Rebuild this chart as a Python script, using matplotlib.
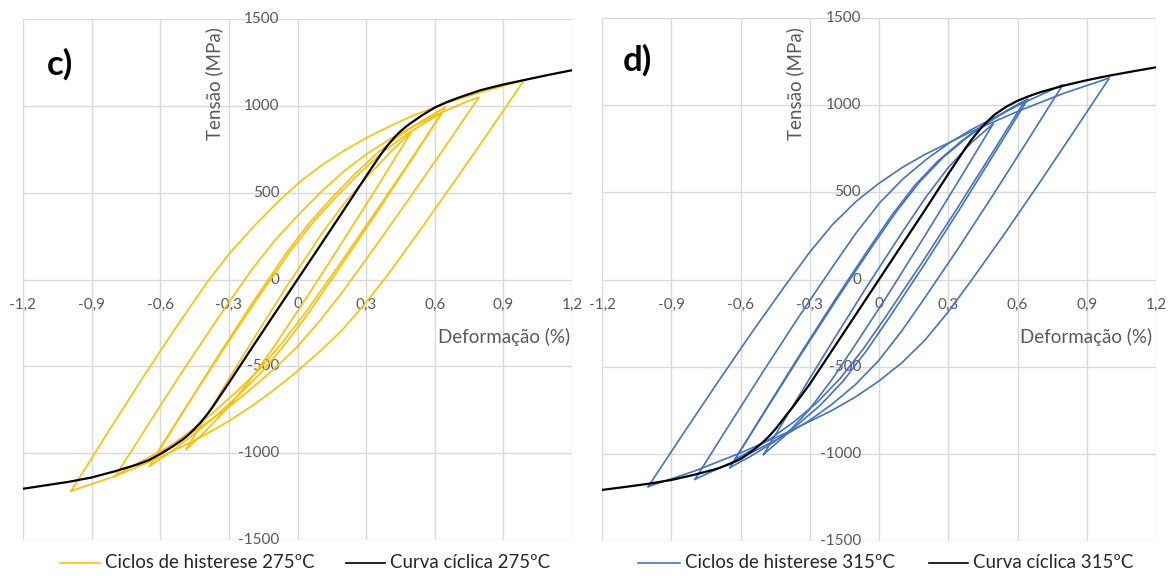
import matplotlib
matplotlib.use("Agg")
import matplotlib.pyplot as plt
from matplotlib.lines import Line2D

plt.rcParams['font.family'] = ['Lato', 'DejaVu Sans']

# ---------------- dados ----------------
xt = [-1.2, -0.9, -0.6, -0.3, 0, 0.3, 0.6, 0.9, 1.2]
xt_lab = ['-1,2', '-0,9', '-0,6', '-0,3', '0', '0,3', '0,6', '0,9', '1,2']
yt = [-1500, -1000, -500, 0, 500, 1000, 1500]
yt_lab = ['-1500', '-1000', '-500', '0', '500', '1000', '1500']

# curva ciclica 275 C
cc275_x = [-1.2, -1.1, -1.0, -0.9, -0.8, -0.7, -0.65, -0.6, -0.55, -0.5, -0.475, -0.45, -0.425, -0.4,
           -0.375, -0.35, -0.3, -0.2, -0.1, 0, 0.1, 0.2, 0.3, 0.35, 0.375, 0.4, 0.425, 0.45, 0.475,
           0.5, 0.55, 0.6, 0.65, 0.7, 0.8, 0.9, 1.0, 1.1, 1.2]
cc275_y = [-1205, -1185, -1165, -1140, -1105, -1065, -1040, -1005, -965, -920, -892, -860, -825, -785,
           -742, -693, -595, -395, -197, 0, 197, 395, 595, 693, 740, 782, 820, 853, 881,
           905, 950, 990, 1020, 1045, 1090, 1123, 1151, 1179, 1205]

# curva ciclica 315 C
cc315_x = [-1.2, -1.1, -1.0, -0.9, -0.8, -0.7, -0.65, -0.6, -0.55, -0.5, -0.475, -0.45, -0.425, -0.4,
           -0.375, -0.35, -0.3, -0.2, -0.1, 0, 0.1, 0.2, 0.3, 0.35, 0.375, 0.4, 0.425, 0.45, 0.475,
           0.5, 0.55, 0.6, 0.65, 0.7, 0.8, 0.9, 1.0, 1.1, 1.2]
cc315_y = [-1207, -1190, -1172, -1150, -1120, -1085, -1060, -1030, -985, -930, -897, -860, -818, -775,
           -734, -690, -600, -400, -200, 0, 200, 400, 605, 705, 754, 800, 842, 880, 914,
           945, 990, 1025, 1052, 1075, 1112, 1143, 1170, 1194, 1217]

# ciclos de histerese 275 C (ramo ascendente seguido do ramo descendente)
h275_x = [
    [-0.99, -0.84, -0.69, -0.54, -0.39, -0.29, -0.19, -0.09, 0.01, 0.11, 0.21, 0.31, 0.41, 0.51, 0.61,
     0.71, 0.81, 0.99,
     0.84, 0.69, 0.54, 0.39, 0.29, 0.19, 0.09, -0.01, -0.11, -0.21, -0.31, -0.41, -0.51, -0.61, -0.71,
     -0.81, -0.91, -0.99],
    [-0.796, -0.646, -0.496, -0.346, -0.196, -0.096, 0.004, 0.104, 0.204, 0.304, 0.404, 0.504, 0.604,
     0.704, 0.793,
     0.643, 0.493, 0.343, 0.193, 0.093, -0.007, -0.107, -0.207, -0.307, -0.407, -0.507, -0.607, -0.707,
     -0.796],
    [-0.647, -0.497, -0.347, -0.197, -0.047, 0.053, 0.153, 0.253, 0.353, 0.453, 0.553, 0.647,
     0.497, 0.347, 0.197, 0.047, -0.053, -0.153, -0.253, -0.353, -0.453, -0.553, -0.647],
    [-0.625, -0.475, -0.325, -0.175, -0.025, 0.075, 0.175, 0.275, 0.375, 0.475, 0.575, 0.632,
     0.482, 0.332, 0.182, 0.032, -0.068, -0.168, -0.268, -0.368, -0.468, -0.568, -0.625],
    [-0.487, -0.337, -0.187, -0.037, 0.113, 0.213, 0.313, 0.413, 0.497,
     0.347, 0.197, 0.047, -0.103, -0.203, -0.303, -0.403, -0.487],
]
h275_y = [
    [-1218, -903, -593, -293, -6, 162, 307, 442, 562, 662, 747, 822, 887, 947, 997,
     1042, 1082, 1147,
     857, 572, 292, 19, -148, -298, -423, -538, -643, -738, -823, -898, -966, -1028, -1085,
     -1138, -1183, -1218],
    [-1132, -821, -515, -219, 64, 230, 373, 506, 625, 724, 808, 881, 946,
     1005, 1050,
     760, 475, 195, -78, -245, -395, -520, -635, -740, -835, -920, -995, -1063,
     -1132],
    [-1075, -755, -440, -135, 156, 327, 474, 611, 733, 835, 921, 992,
     687, 387, 93, -195, -370, -528, -660, -781, -891, -991, -1075],
    [-1020, -709, -404, -108, 175, 341, 484, 617, 735, 834, 918, 960,
     663, 371, 84, -195, -366, -520, -648, -765, -873, -970, -1020],
    [-979, -652, -331, -19, 278, 453, 603, 743, 848,
     530, 218, -89, -388, -571, -736, -873, -979],
]

# ciclos de histerese 315 C
h315_x = [
    [-1.0, -0.85, -0.7, -0.55, -0.4, -0.3, -0.2, -0.1, 0.0, 0.1, 0.2, 0.4, 0.6, 0.8, 0.998,
     0.848, 0.698, 0.548, 0.398, 0.298, 0.198, 0.098, -0.002, -0.102, -0.202, -0.402, -0.602, -0.802, -1.0],
    [-0.797, -0.647, -0.497, -0.347, -0.197, -0.097, 0.003, 0.103, 0.203, 0.303, 0.403, 0.603, 0.796,
     0.646, 0.496, 0.346, 0.196, 0.096, -0.004, -0.104, -0.204, -0.304, -0.404, -0.604, -0.797],
    [-0.646, -0.496, -0.346, -0.196, -0.046, 0.054, 0.154, 0.254, 0.354, 0.454, 0.554, 0.645,
     0.495, 0.345, 0.195, 0.045, -0.055, -0.155, -0.255, -0.355, -0.455, -0.555, -0.646],
    [-0.624, -0.474, -0.324, -0.174, -0.024, 0.076, 0.176, 0.276, 0.376, 0.476, 0.576, 0.632,
     0.482, 0.332, 0.182, 0.032, -0.068, -0.168, -0.268, -0.368, -0.468, -0.568, -0.624],
    [-0.50, -0.35, -0.20, -0.05, 0.10, 0.20, 0.30, 0.40, 0.495,
     0.345, 0.195, 0.045, -0.105, -0.205, -0.305, -0.405, -0.50],
]
h315_y = [
    [-1188, -888, -592, -302, -23, 157, 317, 447, 552, 642, 718, 848, 964, 1068, 1156,
     856, 560, 270, -9, -189, -349, -479, -584, -674, -750, -880, -996, -1100, -1188],
    [-1146, -830, -518, -213, 81, 271, 440, 576, 687, 782, 862, 999, 1117,
     801, 489, 184, -110, -300, -469, -605, -716, -811, -891, -1028, -1146],
    [-1079, -757, -438, -127, 173, 366, 538, 678, 791, 888, 969, 1035,
     713, 394, 83, -217, -410, -582, -722, -835, -932, -1013, -1079],
    [-1032, -715, -401, -95, 201, 391, 560, 698, 809, 904, 985, 1025,
     708, 394, 88, -208, -398, -567, -705, -816, -911, -992, -1032],
    [-1003, -675, -352, -35, 270, 467, 642, 784, 894,
     566, 243, -74, -379, -576, -751, -893, -1003],
]

amarelo = '#FFC000'
azul = '#4472C4'
cinza = '#595959'
W, H = 1176, 576

fig = plt.figure(figsize=(11.76, 5.76), dpi=100)


def eixos(rect):
    ax = fig.add_axes(rect)
    ax.set_xlim(-1.2, 1.2)
    ax.set_ylim(-1500, 1500)
    ax.set_xticks(xt)
    ax.set_yticks(yt)
    ax.tick_params(length=0, labelbottom=False, labelleft=False)
    ax.grid(color='#d9d9d9', lw=1.0)
    ax.set_axisbelow(True)
    for s in ax.spines.values():
        s.set_visible(False)
    for v, lab in zip(xt, xt_lab):
        ax.annotate(lab, (v, 0), xytext=(0, -18), textcoords='offset points',
                    ha='center', va='center', color=cinza, fontsize=11,
                    zorder=1, annotation_clip=False)
    for v, lab in zip(yt, yt_lab):
        ax.annotate(lab, (0, v), xytext=(-13, 0), textcoords='offset points',
                    ha='right', va='center', color=cinza, fontsize=11,
                    zorder=1, annotation_clip=False)
    return ax


def px(x, y):
    return x / W, 1 - y / H


# ---------------- painel c) ----------------
ax1 = eixos([23 / W, 1 - 540 / H, 549 / W, 521 / H])
for xs, ys in zip(h275_x, h275_y):
    ax1.plot(xs, ys, color=amarelo, lw=1.2, zorder=3)
ax1.plot(cc275_x, cc275_y, color='black', lw=1.6, zorder=4)

# ---------------- painel d) ----------------
ax2 = eixos([602 / W, 1 - 541 / H, 554 / W, 523 / H])
for xs, ys in zip(h315_x, h315_y):
    ax2.plot(xs, ys, color=azul, lw=1.2, zorder=3)
ax2.plot(cc315_x, cc315_y, color='black', lw=1.6, zorder=4)

# titulos dos eixos
for xc, xr in [(214, 570), (795, 1152)]:
    fig.text(*px(xc, 84), 'Tensão (MPa)', rotation=90, ha='center', va='center',
             color=cinza, fontsize=13.5)
    fig.text(*px(xr, 337), 'Deformação (%)', ha='right', va='center',
             color=cinza, fontsize=13.5)

# letras
fig.text(*px(60, 64), 'c)', ha='center', va='center', fontsize=25, fontweight='bold')
fig.text(*px(637, 60), 'd)', ha='center', va='center', fontsize=25, fontweight='bold')

# legendas
leg = [(60, 100, amarelo, 'Ciclos de histerese 275ºC'),
       (346, 385, 'black', 'Curva cíclica 275ºC'),
       (638, 680, azul, 'Ciclos de histerese 315ºC'),
       (929, 968, 'black', 'Curva cíclica 315ºC')]
for x0, x1, cor, txt in leg:
    a, yy = px(x0, 563)
    b, _ = px(x1, 563)
    fig.add_artist(Line2D([a, b], [yy, yy], color=cor, lw=1.2, transform=fig.transFigure))
    fig.text(*px(x1 + 5, 563), txt, ha='left', va='center', color='#262626', fontsize=13.4)

fig.savefig('out.png', dpi=100)
